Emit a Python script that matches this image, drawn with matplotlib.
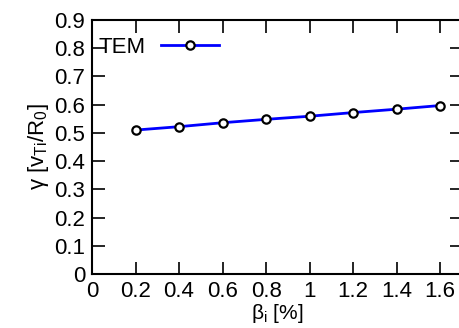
import matplotlib
matplotlib.use("Agg")
import matplotlib.pyplot as plt

beta_i = [0.2, 0.4, 0.6, 0.8, 1.0, 1.2, 1.4, 1.6]
gamma_tem = [0.510, 0.522, 0.536, 0.548, 0.559, 0.572, 0.584, 0.597]
x_ticks = [0, 0.2, 0.4, 0.6, 0.8, 1.0, 1.2, 1.4, 1.6]
x_ticklabels = ["0", "0.2", "0.4", "0.6", "0.8", "1", "1.2", "1.4", "1.6"]
y_ticks = [0, 0.1, 0.2, 0.3, 0.4, 0.5, 0.6, 0.7, 0.8, 0.9]
y_ticklabels = ["0", "0.1", "0.2", "0.3", "0.4", "0.5", "0.6", "0.7", "0.8", "0.9"]

plt.rcParams["font.family"] = ["Liberation Sans", "DejaVu Sans"]
plt.rcParams["mathtext.fontset"] = "custom"
plt.rcParams["mathtext.rm"] = "Liberation Sans"
plt.rcParams["mathtext.it"] = "Liberation Sans:italic"

FS = 16
W, H = 459, 328
fig = plt.figure(figsize=(W / 100, H / 100), dpi=100)
# axes in pixel coords: left 92, right ~462 (cropped), top 20, bottom 274
ax = fig.add_axes([92 / W, (H - 274) / H, (462 - 92) / W, (274 - 20) / H])

ax.plot(beta_i, gamma_tem, color="#0000ff", lw=2, marker="o", ms=6,
        mfc="white", mec="black", mew=1.6, label="TEM", clip_on=False)

ax.set_xlim(0, 1.7)
ax.set_ylim(0, 0.9)
ax.set_xticks(x_ticks)
ax.set_xticklabels(x_ticklabels)
ax.set_yticks(y_ticks)
ax.set_yticklabels(y_ticklabels)
ax.tick_params(direction="in", length=9, width=1.2, top=True, right=True,
               labelsize=FS, pad=5)
for s in ax.spines.values():
    s.set_linewidth(1.5)

ax.set_xlabel("β$_\\mathrm{i}$ [%]", fontsize=15, labelpad=0)
ax.set_ylabel("γ [v$_\\mathrm{Ti}$/R$_\\mathrm{0}$]", fontsize=FS, labelpad=2)

leg = ax.legend(loc="upper left", bbox_to_anchor=(0.0, 0.96), frameon=False,
                markerfirst=False, handlelength=2.6, handletextpad=0.7,
                borderaxespad=0, borderpad=0.3, fontsize=FS)

fig.savefig("out.png", dpi=100)
